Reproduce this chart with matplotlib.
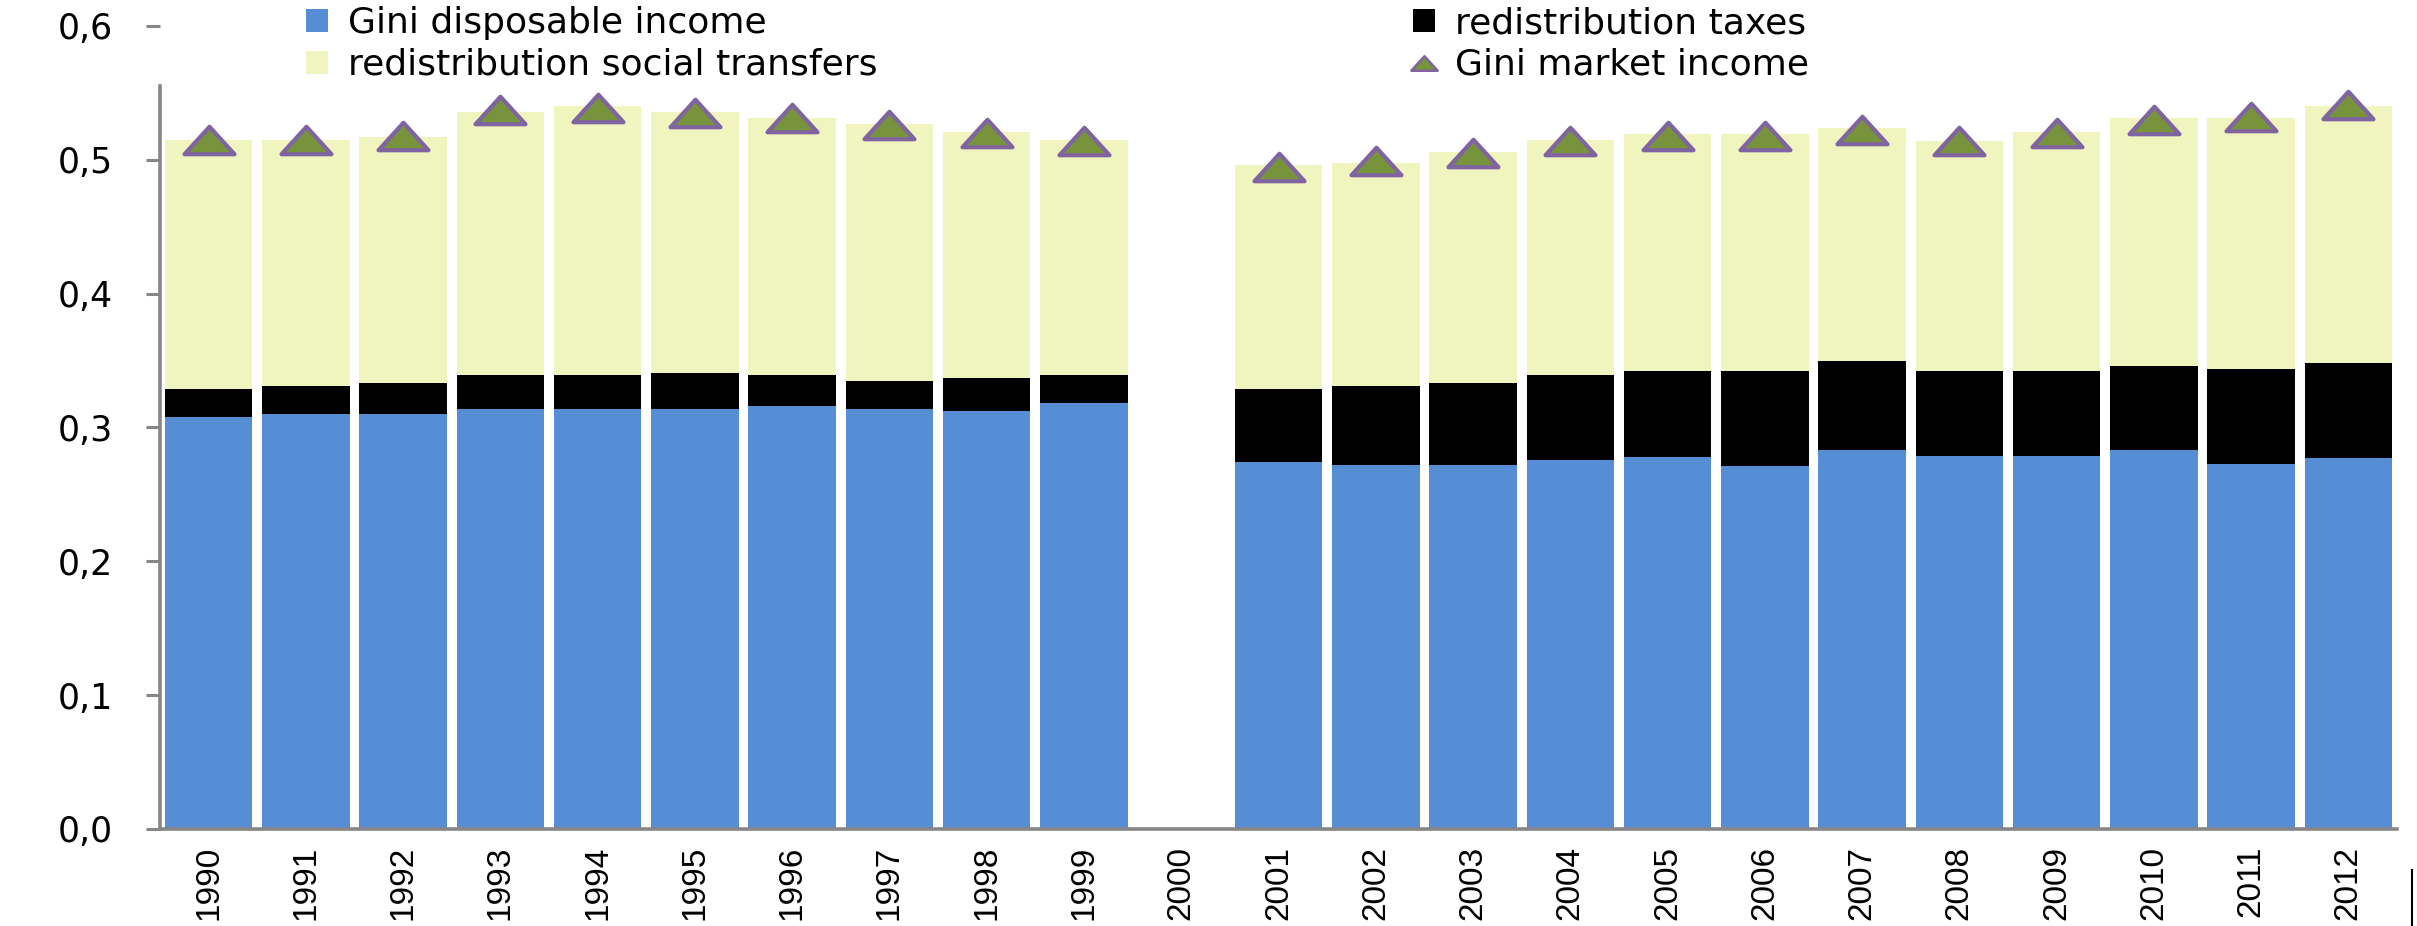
import numpy as np
import matplotlib
matplotlib.use("Agg")
import matplotlib.pyplot as plt
from matplotlib.path import Path
from matplotlib.markers import MarkerStyle
from matplotlib.lines import Line2D
from matplotlib.patches import Patch

nan = np.nan

# Data: Gini coefficients and redistribution effects, 1990-2012 (no data for 2000)
years = [str(y) for y in range(1990, 2013)]
gini_disposable = [0.308, 0.310, 0.310, 0.314, 0.314, 0.314, 0.316, 0.314, 0.312, 0.318, nan,
                   0.274, 0.272, 0.272, 0.276, 0.278, 0.271, 0.283, 0.279, 0.279, 0.283, 0.273, 0.277]
redistribution_taxes = [0.021, 0.021, 0.023, 0.025, 0.025, 0.027, 0.023, 0.021, 0.025, 0.021, nan,
                        0.055, 0.059, 0.061, 0.063, 0.064, 0.071, 0.067, 0.063, 0.063, 0.063, 0.071, 0.071]
redistribution_transfers = [0.186, 0.184, 0.184, 0.197, 0.201, 0.195, 0.192, 0.192, 0.184, 0.176, nan,
                            0.167, 0.167, 0.173, 0.176, 0.177, 0.177, 0.174, 0.172, 0.179, 0.185, 0.187, 0.192]
gini_market = [0.515, 0.515, 0.518, 0.537, 0.539, 0.535, 0.531, 0.526, 0.520, 0.514, nan,
               0.495, 0.499, 0.505, 0.514, 0.518, 0.518, 0.522, 0.514, 0.520, 0.530, 0.532, 0.541]
ytick_values = [0.0, 0.1, 0.2, 0.3, 0.4, 0.5, 0.6]
ytick_labels = ["0,0", "0,1", "0,2", "0,3", "0,4", "0,5", "0,6"]
series_names = ["Gini disposable income", "redistribution social transfers",
                "redistribution taxes", "Gini market income"]

BLUE = "#558ED5"
YELLOW = "#F0F5BF"
GREEN = "#77933C"
PURPLE = "#8064A2"
AXIS_GRAY = "#868686"

W, H = 2417, 926
fig = plt.figure(figsize=(W / 100, H / 100), dpi=100)
ax = fig.add_axes([160 / W, 1 - 829 / H, (2397 - 160) / W, (829 - 26) / H])

x = np.arange(len(years))
disp = np.array(gini_disposable)
tax = np.array(redistribution_taxes)
trans = np.array(redistribution_transfers)

bw = 0.9
ax.bar(x, disp, bw, color=BLUE, linewidth=0)
ax.bar(x, tax, bw, bottom=disp, color="black", linewidth=0)
ax.bar(x, trans, bw, bottom=disp + tax, color=YELLOW, linewidth=0)

# flattened triangle marker
tri_path = Path([(-1, -0.55), (1, -0.55), (0, 0.55), (-1, -0.55)],
                [Path.MOVETO, Path.LINETO, Path.LINETO, Path.CLOSEPOLY])
tri = MarkerStyle(tri_path, joinstyle="round")
ax.plot(x, gini_market, linestyle="none", marker=tri, markersize=36,
        markerfacecolor=GREEN, markeredgecolor=PURPLE, markeredgewidth=3.0, zorder=4)

ax.set_xlim(-0.5, len(years) - 0.5)
ax.set_ylim(0, 0.6)
ax.set_yticks(ytick_values)
ax.set_yticklabels(ytick_labels, fontsize=25, family="DejaVu Sans")
ax.set_xticks(x)
ax.set_xticklabels(years, rotation=90, fontsize=24, family=["Liberation Sans", "DejaVu Sans"])

for s in ("top", "right"):
    ax.spines[s].set_visible(False)
for s in ("left", "bottom"):
    ax.spines[s].set_color(AXIS_GRAY)
    ax.spines[s].set_linewidth(2.6)
ax.spines["left"].set_bounds(0, 0.555)
ax.tick_params(axis="y", length=10, width=2.2, color=AXIS_GRAY, pad=24)
ax.tick_params(axis="x", length=0, pad=12)

# legend, two columns
h_blue = Patch(facecolor=BLUE, edgecolor="none")
h_yellow = Patch(facecolor=YELLOW, edgecolor="none")
h_black = Patch(facecolor="black", edgecolor="none")
h_tri = Line2D([], [], linestyle="none", marker=tri, markersize=19,
               markerfacecolor=GREEN, markeredgecolor=PURPLE, markeredgewidth=1.8)

common = dict(loc="upper left", frameon=False, fontsize=26, handlelength=0.6,
              handleheight=0.6, handletextpad=0.55, labelspacing=0.22,
              borderpad=0, borderaxespad=0)
fig.legend([h_blue, h_yellow], series_names[:2],
           bbox_to_anchor=(306 / W, 1 - 6 / H), **common)
fig.legend([h_black, h_tri], series_names[2:],
           bbox_to_anchor=(1413 / W, 1 - 6 / H), **common)

# small frame mark at the lower right corner
fig.add_artist(Line2D([2412 / W, 2412 / W], [0, 1 - 870 / H], color="black",
                      linewidth=1.5, transform=fig.transFigure))

fig.savefig("out.png", dpi=100)
